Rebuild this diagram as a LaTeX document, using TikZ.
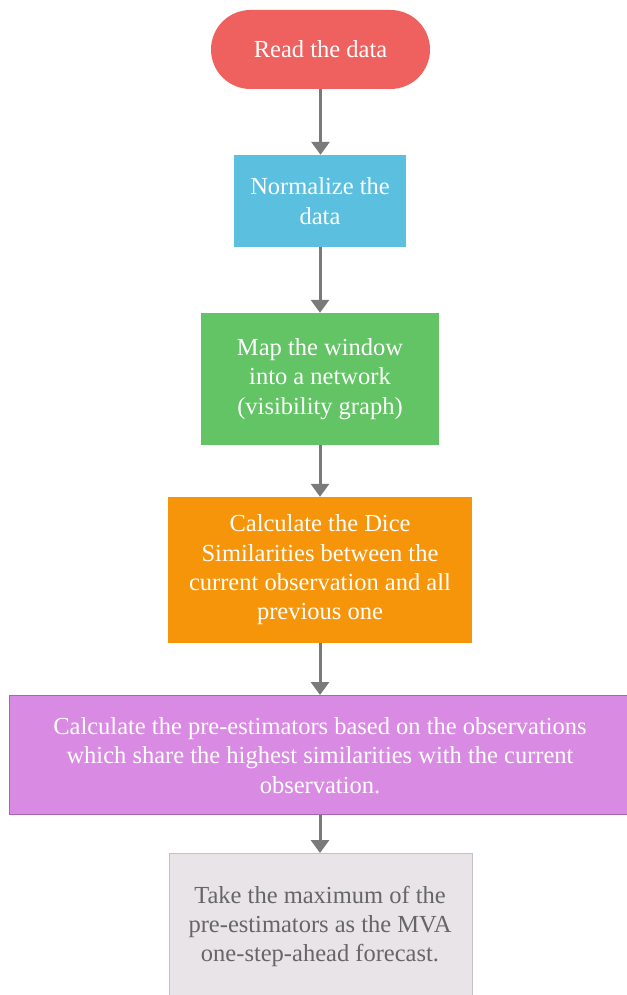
\documentclass[tikz,border=0pt]{standalone}
\usepackage{fontspec}
\setmainfont{Liberation Serif}
\usetikzlibrary{arrows.meta}
\definecolor{cred}{HTML}{EF615E}
\definecolor{cblue}{HTML}{5BC0E0}
\definecolor{cgreen}{HTML}{62C464}
\definecolor{corange}{HTML}{F7950A}
\definecolor{cpurple}{HTML}{D98BE3}
\definecolor{cpurpleline}{HTML}{A866B0}
\definecolor{cgrayfill}{HTML}{E8E4E8}
\definecolor{cgrayline}{HTML}{C4C2C4}
\definecolor{carrow}{HTML}{7A7A7A}
\definecolor{ctext}{HTML}{666666}
\begin{document}
\begin{tikzpicture}[x=1pt,y=-1pt,
  box/.style={inner sep=0pt, align=center, text=white,
    font=\fontsize{24.5}{29.3}\selectfont},
  arr/.style={draw=carrow, line width=3pt, -{Triangle[width=18pt,length=13pt]}}]
\useasboundingbox (0,0) rectangle (626,995);
\fill[white] (0,0) rectangle (626,995);
\node[box, fill=cred, rounded corners=39.5pt, minimum width=219pt, minimum height=79pt] (read) at (320.5,49.5) {Read the data};
\node[box, fill=cblue, minimum width=172pt, minimum height=92pt] (norm) at (320,201) {Normalize the\\data};
\node[box, fill=cgreen, minimum width=238pt, minimum height=132pt] (map) at (320,379) {Map the window\\into a network\\(visibility graph)};
\node[box, fill=corange, minimum width=304pt, minimum height=146pt] (dice) at (320,570) {Calculate the Dice\\Similarities between the\\current observation and all\\previous one};
\node[box, fill=cpurple, draw=cpurpleline, line width=1pt, minimum width=620pt, minimum height=119pt, anchor=north west] (pre) at (9,695) {};
\node[box] (pretext) at (320,755.5) {Calculate the pre-estimators based on the observations\\which share the highest similarities with the current\\observation.};
\node[box, fill=cgrayfill, draw=cgrayline, line width=1pt, text=ctext, minimum width=303pt, minimum height=148pt, anchor=north west] (take) at (168.5,853) {};
\node[box, text=ctext] (taketext) at (320,926.5) {Take the maximum of the\\pre-estimators as the MVA\\one-step-ahead forecast.};
\draw[arr] (read.south) -- (read.south |- norm.north);
\draw[arr] (norm.south) -- (norm.south |- map.north);
\draw[arr] (map.south) -- (map.south |- dice.north);
\draw[arr] (dice.south) -- (dice.south |- pre.north);
\draw[arr] (dice.south |- pre.south) -- (dice.south |- take.north);
\end{tikzpicture}
\end{document}
